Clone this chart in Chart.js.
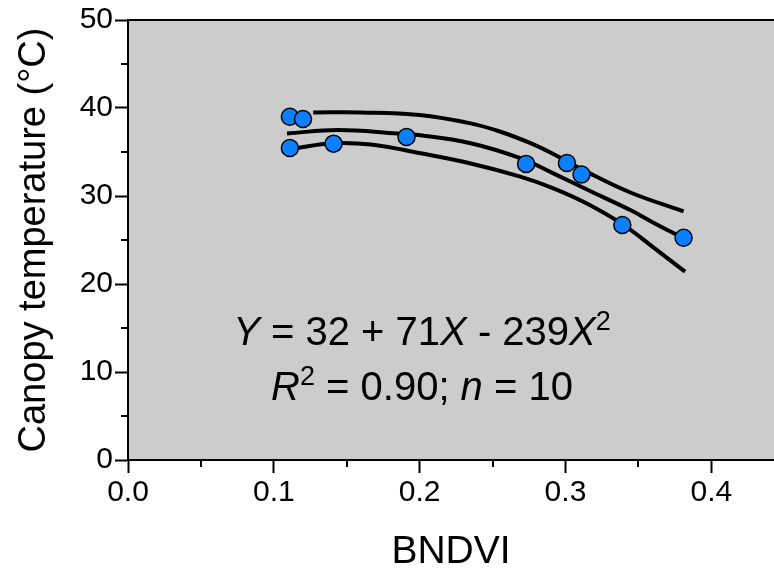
<!DOCTYPE html>
<html>
<head>
<meta charset="utf-8">
<script src="https://cdn.jsdelivr.net/npm/chart.js@4.4.1/dist/chart.umd.min.js"></script>
<style>
  html, body { margin: 0; padding: 0; background: #fff; }
</style>
</head>
<body>
<canvas id="chart" width="774" height="574"></canvas>
<script>
const FONT = "'Liberation Sans', Arial, Helvetica, sans-serif";

// observed points
const bndvi = [0.111, 0.120, 0.111, 0.141, 0.191, 0.273, 0.301, 0.311, 0.339, 0.381];
const canopyTemp = [39.0, 38.75, 35.45, 35.95, 36.7, 33.65, 33.75, 32.45, 26.7, 25.25];

// fitted curve and its two bands
const fitX = [0.109, 0.144, 0.185, 0.2007, 0.235, 0.269, 0.2913, 0.319, 0.3445, 0.36, 0.381];
const fitY = [37.1, 37.5, 37.1, 36.9, 36.0, 34.3, 32.6, 30.4, 28.4, 27.0, 25.2];
const upperX = [0.127, 0.16, 0.2, 0.235, 0.2555, 0.276, 0.2913, 0.314, 0.3445, 0.381];
const upperY = [39.5, 39.5, 39.2, 38.25, 37.3, 36.0, 34.8, 32.8, 30.4, 28.25];
const lowerX = [0.114, 0.14, 0.1665, 0.2007, 0.235, 0.269, 0.2913, 0.314, 0.339, 0.36, 0.382];
const lowerY = [35.4, 36.0, 35.85, 34.85, 33.7, 32.2, 30.9, 29.2, 26.8, 24.2, 21.4];

const xMinor = [0.05, 0.15, 0.25, 0.35];
const yMinor = [5, 15, 25, 35, 45];

const toXY = (xs, ys) => xs.map((v, i) => ({ x: v, y: ys[i] }));

const curve = (xs, ys) => ({
  type: 'line',
  data: toXY(xs, ys),
  borderColor: '#000',
  borderWidth: 4,
  pointRadius: 0,
  fill: false,
  tension: 0.4,
  order: 2
});

// gray plot area, top frame line, minor ticks
const frame = {
  id: 'frame',
  beforeDraw(chart) {
    const { ctx, chartArea: a } = chart;
    ctx.save();
    ctx.fillStyle = '#cccccc';
    ctx.fillRect(a.left, a.top, a.right - a.left, a.bottom - a.top);
    ctx.restore();
  },
  afterDraw(chart) {
    const { ctx, chartArea: a, scales: { x, y } } = chart;
    ctx.save();
    ctx.strokeStyle = '#000';
    ctx.lineWidth = 2;
    ctx.beginPath();
    ctx.moveTo(a.left, a.top);
    ctx.lineTo(a.right, a.top);
    xMinor.forEach(v => {
      const px = Math.round(x.getPixelForValue(v));
      ctx.moveTo(px, a.bottom);
      ctx.lineTo(px, a.bottom + 7);
    });
    yMinor.forEach(v => {
      const py = Math.round(y.getPixelForValue(v));
      ctx.moveTo(a.left, py);
      ctx.lineTo(a.left - 7, py);
    });
    ctx.stroke();
    ctx.restore();
  }
};

// regression equation inside the plot
const equation = {
  id: 'equation',
  afterDatasetsDraw(chart) {
    const { ctx, chartArea: a } = chart;
    const lines = [
      [['Y', 'i'], [' = 32 + 71', 'n'], ['X', 'i'], [' - 239', 'n'], ['X', 'i'], ['2', 's']],
      [['R', 'i'], ['2', 's'], [' = 0.90; ', 'n'], ['n', 'i'], [' = 10', 'n']]
    ];
    const fonts = {
      n: `40px ${FONT}`,
      i: `italic 40px ${FONT}`,
      s: `27px ${FONT}`
    };
    const cx = a.left + 294;
    const baselines = [a.top + 325, a.top + 380];
    ctx.save();
    ctx.fillStyle = '#000';
    ctx.textBaseline = 'alphabetic';
    ctx.textAlign = 'left';
    lines.forEach((runs, li) => {
      let w = 0;
      runs.forEach(([t, f]) => { ctx.font = fonts[f]; w += ctx.measureText(t).width; });
      let px = cx - w / 2;
      runs.forEach(([t, f]) => {
        ctx.font = fonts[f];
        const dy = f === 's' ? -15 : 0;
        ctx.fillText(t, px, baselines[li] + dy);
        px += ctx.measureText(t).width;
      });
    });
    ctx.restore();
  }
};

new Chart(document.getElementById('chart'), {
  type: 'scatter',
  data: {
    datasets: [
      {
        data: toXY(bndvi, canopyTemp),
        backgroundColor: '#0a80ff',
        borderColor: '#000',
        borderWidth: 1.5,
        pointRadius: 8.5,
        pointHoverRadius: 8.5,
        order: 1
      },
      curve(fitX, fitY),
      curve(upperX, upperY),
      curve(lowerX, lowerY)
    ]
  },
  options: {
    responsive: false,
    animation: false,
    devicePixelRatio: 1,
    layout: { autoPadding: false, padding: { top: 20, right: 0, left: 0, bottom: 0 } },
    plugins: {
      legend: { display: false },
      tooltip: { enabled: false }
    },
    scales: {
      x: {
        type: 'linear',
        min: 0,
        max: 0.443,
        afterFit: s => { s.height = 114; },
        ticks: {
          stepSize: 0.1,
          includeBounds: false,
          callback: v => v.toFixed(1),
          color: '#000',
          font: { family: FONT, size: 30 },
          padding: 2,
          maxRotation: 0
        },
        grid: { drawOnChartArea: false, tickLength: 13, tickWidth: 2, tickColor: '#000' },
        border: { display: true, color: '#000', width: 2 },
        title: {
          display: true,
          text: 'BNDVI',
          color: '#000',
          font: { family: FONT, size: 39, lineHeight: 1.1 },
          padding: { top: 0, bottom: 0 }
        }
      },
      y: {
        min: 0,
        max: 50,
        afterFit: s => { s.width = 128; },
        ticks: {
          stepSize: 10,
          color: '#000',
          font: { family: FONT, size: 30 },
          padding: 2
        },
        grid: { drawOnChartArea: false, tickLength: 13, tickWidth: 2, tickColor: '#000' },
        border: { display: true, color: '#000', width: 2 },
        title: {
          display: true,
          text: 'Canopy temperature (°C)',
          color: '#000',
          font: { family: FONT, size: 38, lineHeight: 1.2 },
          padding: { top: 12, bottom: 0 }
        }
      }
    }
  },
  plugins: [frame, equation]
});
</script>
</body>
</html>
